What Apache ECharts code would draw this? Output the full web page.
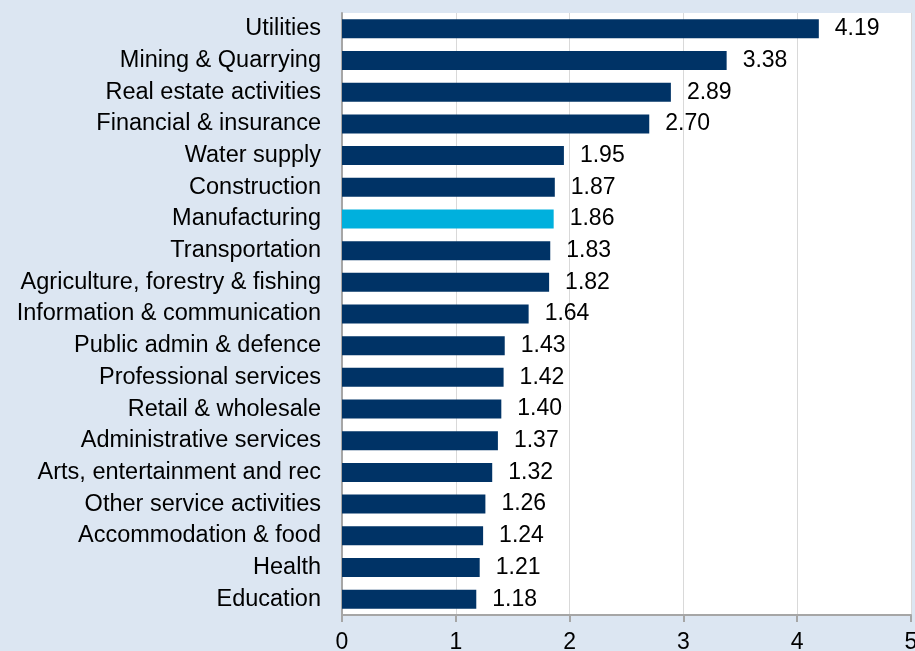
<!DOCTYPE html>
<html><head><meta charset="utf-8">
<script src="https://cdn.jsdelivr.net/npm/echarts@6/dist/echarts.min.js"></script>
<style>html,body{margin:0;padding:0;background:#dce6f2;}#c{width:915px;height:651px;}</style>
</head><body><div id="c"></div>
<script>
var categories = ["Utilities","Mining & Quarrying","Real estate activities","Financial & insurance","Water supply","Construction","Manufacturing","Transportation","Agriculture, forestry & fishing","Information & communication","Public admin & defence","Professional services","Retail & wholesale","Administrative services","Arts, entertainment and rec","Other service activities","Accommodation & food","Health","Education"];
var values = [4.19,3.38,2.89,2.70,1.95,1.87,1.86,1.83,1.82,1.64,1.43,1.42,1.40,1.37,1.32,1.26,1.24,1.21,1.18];
var highlight = "Manufacturing";
var xTicks = [0,1,2,3,4,5];

var chart = echarts.init(document.getElementById('c'));
var font = "'Liberation Sans', Arial, sans-serif";
chart.setOption({
  backgroundColor: '#dce6f2',
  animation: false,
  grid: {left: 342, right: 4, top: 13, bottom: 36, containLabel: false, outerBoundsMode: 'none', show: true, backgroundColor: '#ffffff', borderWidth: 0},
  xAxis: {
    type: 'value', min: xTicks[0], max: xTicks[xTicks.length-1], interval: 1,
    axisLine: {show: true, lineStyle: {color: '#a6a6a6', width: 2}},
    axisTick: {show: true, length: 7, lineStyle: {color: '#a6a6a6', width: 2}},
    axisLabel: {color: '#000', fontFamily: font, fontSize: 23, margin: 16, showMaxLabel: true, hideOverlap: false},
    splitLine: {show: true, lineStyle: {color: '#d9d9d9', width: 1}}
  },
  yAxis: {
    type: 'category', data: categories, inverse: true,
    axisLine: {show: true, lineStyle: {color: '#a6a6a6', width: 2}},
    axisTick: {show: false},
    axisLabel: {color: '#000', fontFamily: font, fontSize: 23.5, margin: 21, padding: [4, 0, 0, 0]}
  },
  series: [{
    type: 'bar', barWidth: '60%',
    data: values.map(function(v, i){
      return {value: v, itemStyle: {color: categories[i] === highlight ? '#00b0dd' : '#003366'}};
    }),
    label: {show: true, position: 'right', distance: 16, color: '#000', fontFamily: font, fontSize: 23, padding: [3, 0, 0, 0],
      formatter: function(p){ return p.value.toFixed(2); }}
  }]
});
</script></body></html>
